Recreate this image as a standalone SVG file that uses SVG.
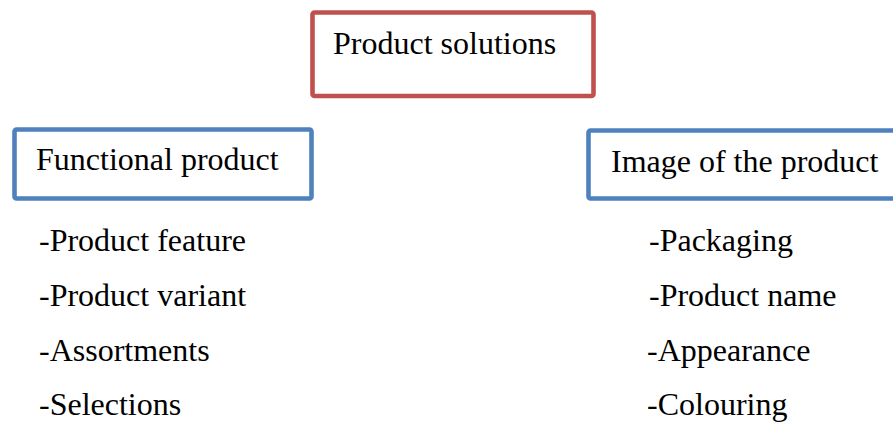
<svg xmlns="http://www.w3.org/2000/svg" width="893" height="424" viewBox="0 0 893 424">
  <style>
    .box { fill: #ffffff; stroke-width: 4.6; }
    .red { stroke: #C0504D; }
    .blue { stroke: #4F81BD; }
  </style>
  <rect width="893" height="424" fill="#ffffff"/>

  <g font-family="Liberation Serif, DejaVu Serif, serif" font-size="32" fill="#000000">
    <!-- top node -->
    <g id="product-solutions">
      <rect class="box red" x="312.5" y="12.5" width="281" height="83.5" rx="2"/>
      <text x="333" y="54">Product solutions</text>
    </g>

    <!-- left branch heading -->
    <g id="functional-product">
      <rect class="box blue" x="14.5" y="129.5" width="297" height="69" rx="2"/>
      <text x="36" y="170">Functional product</text>
    </g>

    <!-- right branch heading, its right edge runs past the page -->
    <g id="image-of-the-product">
      <rect class="box blue" x="588.5" y="130.5" width="320" height="68" rx="2"/>
      <text x="611" y="172">Image of the product</text>
    </g>

    <!-- items under the left heading -->
    <g id="functional-items">
      <text x="39" y="251">-Product feature</text>
      <text x="39" y="306">-Product variant</text>
      <text x="39" y="361">-Assortments</text>
      <text x="39" y="415">-Selections</text>
    </g>

    <!-- items under the right heading -->
    <g id="image-items">
      <text x="649" y="251">-Packaging</text>
      <text x="649" y="306">-Product name</text>
      <text x="647" y="361">-Appearance</text>
      <text x="647" y="415">-Colouring</text>
    </g>
  </g>

  <!-- no connectors are drawn between the nodes -->
  <g id="connectors"/>
</svg>
